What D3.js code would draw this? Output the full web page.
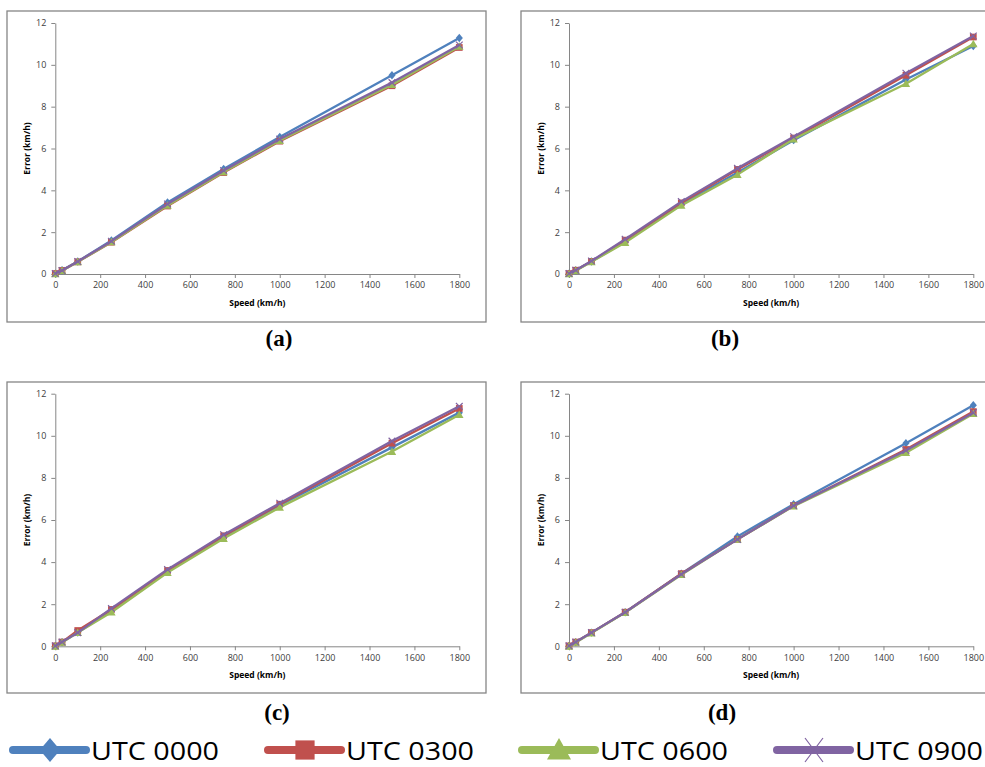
<!DOCTYPE html>
<html><head><meta charset="utf-8">
<script src="https://cdn.jsdelivr.net/npm/d3@7"></script>
<style>body{margin:0;background:#fff}svg{display:block}</style>
</head><body>
<svg id="c" width="985" height="767"></svg>
<script>
const speeds = [0, 30, 100, 250, 500, 750, 1000, 1500, 1800];
const seriesNames = ["UTC 0000", "UTC 0300", "UTC 0600", "UTC 0900"];
const colors = ["#4F81BD", "#C0504D", "#9BBB59", "#8064A2"];
const xTicks = [0, 200, 400, 600, 800, 1000, 1200, 1400, 1600, 1800];
const yTicks = [0, 2, 4, 6, 8, 10, 12];
const panelLabels = ["(a)", "(b)", "(c)", "(d)"];

const a0000 = [0.02, 0.18, 0.60, 1.60, 3.42, 5.02, 6.55, 9.50, 11.28];
const a0300 = [0.02, 0.17, 0.58, 1.52, 3.25, 4.85, 6.35, 9.00, 10.83];
const a0600 = [0.00, 0.16, 0.58, 1.53, 3.28, 4.88, 6.38, 9.05, 10.88];
const a0900 = [0.02, 0.17, 0.60, 1.57, 3.35, 4.95, 6.45, 9.15, 10.95];

const b0000 = [0.02, 0.18, 0.60, 1.55, 3.35, 4.85, 6.40, 9.30, 10.90];
const b0300 = [0.02, 0.18, 0.60, 1.62, 3.40, 5.00, 6.50, 9.50, 11.33];
const b0600 = [0.00, 0.16, 0.58, 1.50, 3.28, 4.75, 6.45, 9.10, 11.00];
const b0900 = [0.02, 0.18, 0.62, 1.66, 3.46, 5.05, 6.56, 9.60, 11.38];

const c0000 = [0.02, 0.20, 0.65, 1.70, 3.55, 5.20, 6.70, 9.45, 11.10];
const c0300 = [0.02, 0.20, 0.75, 1.75, 3.60, 5.25, 6.75, 9.65, 11.30];
const c0600 = [0.00, 0.18, 0.65, 1.62, 3.50, 5.12, 6.60, 9.25, 11.00];
const c0900 = [0.02, 0.20, 0.65, 1.80, 3.65, 5.30, 6.80, 9.75, 11.40];

const d0000 = [0.02, 0.20, 0.65, 1.62, 3.45, 5.22, 6.75, 9.65, 11.45];
const d0300 = [0.02, 0.20, 0.65, 1.62, 3.45, 5.08, 6.68, 9.35, 11.15];
const d0600 = [0.00, 0.18, 0.63, 1.60, 3.40, 5.08, 6.66, 9.20, 11.05];
const d0900 = [0.02, 0.20, 0.65, 1.62, 3.42, 5.08, 6.68, 9.30, 11.10];

const panels = [
  {series:[a0000,a0300,a0600,a0900], box:[7,11,479,311], plot:[55.3,23,459.3,274]},
  {series:[b0000,b0300,b0600,b0900], box:[521,11,470,311], plot:[569,23,973.3,274]},
  {series:[c0000,c0300,c0600,c0900], box:[7,382,479,311], plot:[55.3,393.7,459.3,646.3]},
  {series:[d0000,d0300,d0600,d0900], box:[521,382,470,311], plot:[569,393.7,973.3,646.3]}
];
const labelPos = [[279,346],[725,346],[277,720],[722,720]];

const svg = d3.select("#c");

function marker(g, type, cx, cy, color, s) {
  if (type === 0) {
    g.append("path").attr("d", `M${cx},${cy-s}L${cx+s*0.85},${cy}L${cx},${cy+s}L${cx-s*0.85},${cy}Z`).attr("fill", color);
  } else if (type === 1) {
    g.append("rect").attr("x", cx-s*0.8).attr("y", cy-s*0.8).attr("width", s*1.6).attr("height", s*1.6).attr("fill", color);
  } else if (type === 2) {
    g.append("path").attr("d", `M${cx},${cy-s}L${cx+s},${cy+s*0.8}L${cx-s},${cy+s*0.8}Z`).attr("fill", color);
  } else {
    g.append("path").attr("d", `M${cx-s*0.8},${cy-s*0.8}L${cx+s*0.8},${cy+s*0.8}M${cx-s*0.8},${cy+s*0.8}L${cx+s*0.8},${cy-s*0.8}`)
      .attr("stroke", color).attr("stroke-width", 1.2).attr("fill", "none");
  }
}

panels.forEach((p, pi) => {
  const [bx, by, bw, bh] = p.box;
  svg.append("rect").attr("x", bx).attr("y", by).attr("width", bw).attr("height", bh)
    .attr("fill", "none").attr("stroke", "#868686").attr("stroke-width", 1.3);
  const [x0, y0, x1, y1] = p.plot;
  const x = d3.scaleLinear().domain([0, 1800]).range([x0, x1]);
  const y = d3.scaleLinear().domain([0, 12]).range([y1, y0]);
  const g = svg.append("g");
  const xa = g.append("g").attr("transform", `translate(0,${y1})`)
    .call(d3.axisBottom(x).tickValues(xTicks).tickFormat(d3.format("d")).tickSize(4).tickSizeOuter(0).tickPadding(4));
  const ya = g.append("g").attr("transform", `translate(${x0},0)`)
    .call(d3.axisLeft(y).tickValues(yTicks).tickFormat(d3.format("d")).tickSize(4).tickSizeOuter(0).tickPadding(5));
  [xa, ya].forEach(a => {
    a.select(".domain").attr("stroke", "#868686");
    a.selectAll(".tick line").attr("stroke", "#868686");
    a.selectAll(".tick text").attr("fill", "#404040").style("font-family", "'Open Sans', sans-serif").style("font-size", "9px");
  });
  g.append("text").attr("x", (x0 + x1) / 2).attr("y", y1 + 32).attr("text-anchor", "middle")
    .style("font-family", "'Open Sans', sans-serif").style("font-size", "8.5px").style("font-weight", "bold").text("Speed (km/h)");
  g.append("text").attr("transform", `translate(${x0 - 25},${(y0 + y1) / 2}) rotate(-90)`).attr("text-anchor", "middle")
    .style("font-family", "'Open Sans', sans-serif").style("font-size", "8.5px").style("font-weight", "bold").text("Error (km/h)");
  const line = d3.line().x((d, i) => x(speeds[i])).y(d => y(d));
  p.series.forEach((s, si) => {
    const sg = g.append("g");
    sg.append("path").datum(s).attr("d", line).attr("fill", "none").attr("stroke", colors[si]).attr("stroke-width", 2.3)
      .attr("stroke-linejoin", "round");
    s.forEach((v, i) => marker(sg, si, x(speeds[i]), y(v), colors[si], 4.2));
  });
  svg.append("text").attr("x", labelPos[pi][0]).attr("y", labelPos[pi][1]).attr("text-anchor", "middle")
    .style("font-family", "'Liberation Serif', 'Times New Roman', serif").style("font-size", "23px").style("font-weight", "bold")
    .text(panelLabels[pi]);
});

// legend
const legX = [13, 268, 522, 777];
seriesNames.forEach((n, i) => {
  const g = svg.append("g");
  const lx = legX[i];
  g.append("line").attr("x1", lx).attr("x2", lx + 73).attr("y1", 750).attr("y2", 750)
    .attr("stroke", colors[i]).attr("stroke-width", 8).attr("stroke-linecap", "round");
  if (i === 3) {
    g.append("path").attr("d", `M${lx+28},${738}L${lx+46},${762}M${lx+28},${762}L${lx+46},${738}`)
      .attr("stroke", colors[i]).attr("stroke-width", 1.2);
  } else {
    marker(g, i, lx + 37, 750, colors[i], 12);
  }
  g.append("text").attr("x", lx + 78).attr("y", 760)
    .attr("textLength", 128).attr("lengthAdjust", "spacingAndGlyphs")
    .style("font-family", "'Open Sans', sans-serif").style("font-size", "26px").attr("fill", "#000").text(n);
});
</script>
</body></html>
